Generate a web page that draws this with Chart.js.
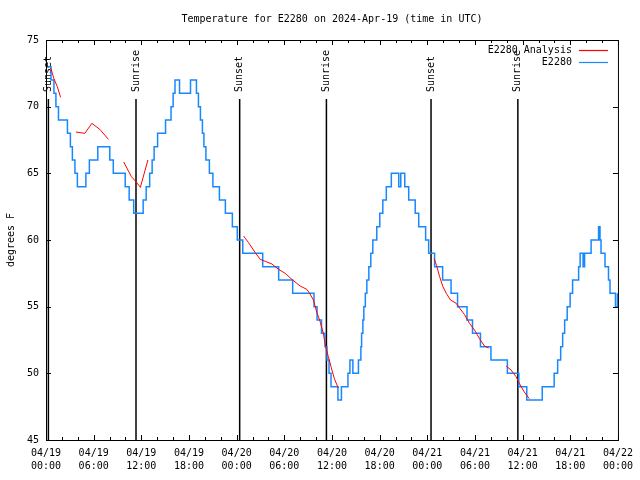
<!DOCTYPE html>
<html lang="en">
<head>
<meta charset="UTF-8" />
<title>Temperature for E2280</title>
<script src="https://cdn.jsdelivr.net/npm/chart.js"></script>
<style>
  html, body { margin: 0; padding: 0; background: #fff; }
</style>
</head>
<body>
<canvas id="tempChart" width="640" height="480"></canvas>
<script>
  const titleText = 'Temperature for E2280 on 2024-Apr-19 (time in UTC)';
  const yTitle = 'degrees F';

  // hours since 04/19 00:00 UTC
  const xTickHours = [0, 6, 12, 18, 24, 30, 36, 42, 48, 54, 60, 66, 72];
  const xTickLabels = [
    ['04/19', '00:00'], ['04/19', '06:00'], ['04/19', '12:00'], ['04/19', '18:00'],
    ['04/20', '00:00'], ['04/20', '06:00'], ['04/20', '12:00'], ['04/20', '18:00'],
    ['04/21', '00:00'], ['04/21', '06:00'], ['04/21', '12:00'], ['04/21', '18:00'],
    ['04/22', '00:00']
  ];
  const yTickValues = [45, 50, 55, 60, 65, 70, 75];

  const eventHours = [0.3, 11.33, 24.38, 35.3, 48.47, 59.4];
  const eventLabels = ['Sunset', 'Sunrise', 'Sunset', 'Sunrise', 'Sunset', 'Sunrise'];

  // E2280 observations (value changes at each hour)
  const obsHours = [
    0.25, 0.63, 1.00, 1.25, 1.57, 2.70, 3.07, 3.32, 3.64, 3.95,
    5.02, 5.46, 6.52, 8.03, 8.47, 9.97, 10.47, 11.04, 12.23, 12.61,
    13.05, 13.36, 13.61, 14.05, 15.05, 15.74, 16.00, 16.24, 16.81, 18.19,
    18.94, 19.19, 19.44, 19.69, 19.88, 20.13, 20.57, 21.01, 21.83, 22.58,
    23.46, 24.08, 24.77, 27.28, 29.29, 31.05, 33.74, 34.12, 34.68, 35.12,
    35.37, 35.63, 35.88, 36.75, 37.19, 38.01, 38.26, 38.63, 39.33, 39.64,
    39.73, 39.89, 40.01, 40.20, 40.39, 40.64, 40.89, 41.14, 41.64, 42.02,
    42.40, 42.84, 43.47, 44.41, 44.66, 45.16, 45.66, 46.48, 46.92, 47.79,
    48.17, 48.92, 49.93, 50.99, 51.81, 53.00, 53.69, 54.69, 56.01, 58.08,
    59.52, 60.52, 62.47, 63.97, 64.41, 64.79, 65.04, 65.29, 65.61, 65.98,
    66.29, 67.05, 67.24, 67.61, 67.80, 68.62, 69.56, 69.74, 69.87, 70.37,
    70.81, 71.00, 71.69, 71.94
  ];
  const obsTemps = [
    73, 72, 71, 70, 69, 68, 67, 66, 65, 64,
    65, 66, 67, 66, 65, 64, 63, 62, 63, 64,
    65, 66, 67, 68, 69, 70, 71, 72, 71, 72,
    71, 70, 69, 68, 67, 66, 65, 64, 63, 62,
    61, 60, 59, 58, 57, 56, 55, 54, 53, 52,
    51, 50, 49, 48, 49, 50, 51, 50, 51, 52,
    53, 54, 55, 56, 57, 58, 59, 60, 61, 62,
    63, 64, 65, 64, 65, 64, 63, 62, 61, 60,
    59, 58, 57, 56, 55, 54, 53, 52, 51, 50,
    49, 48, 49, 50, 51, 52, 53, 54, 55, 56,
    57, 58, 59, 58, 59, 60, 61, 60, 59, 58,
    57, 56, 55, 56
  ];

  // E2280 Analysis (null = gap)
  const anaHours = [
    0.59, 1.00, 1.42, 1.84, 2.80,
    3.76, 4.89, 5.77, 6.77, 7.86, 8.80,
    9.78, 10.75, 11.29, 11.88, 12.83, 18.00,
    24.87, 25.50, 26.34, 26.97, 27.60, 28.44, 29.27, 30.11, 30.95, 31.99,
    32.83, 33.24, 33.66, 34.08, 34.50, 34.91, 35.21, 35.54, 35.88, 36.30, 36.79, 42.00,
    48.86, 49.16, 49.55, 49.97, 50.39, 50.93, 51.64, 52.06, 52.69, 53.31,
    53.94, 54.57, 55.20, 55.74, 56.80,
    57.92, 58.54, 59.17, 59.58, 60.21, 60.84
  ];
  const anaTemps = [
    72.9, 72.1, 71.5, 70.7, null,
    68.1, 68.0, 68.75, 68.3, 67.55, null,
    65.85, 64.75, 64.4, 63.95, 66.0, null,
    60.3, 59.8, 59.05, 58.55, 58.4, 58.2, 57.8, 57.5, 57.05, 56.55,
    56.3, 55.95, 55.5, 54.6, 53.9, 53.0, 52.0, 51.25, 50.5, 49.6, 48.9, null,
    58.6, 58.1, 57.25, 56.5, 56.0, 55.5, 55.25, 54.9, 54.4, 53.75,
    53.25, 52.6, 52.05, 51.9, null,
    50.55, 50.25, 49.75, 49.25, 48.6, 48.1
  ];

  const FONT = '10px "DejaVu Sans Mono", "Liberation Mono", monospace';
  const RED = '#ff0000';
  const BLUE = '#1888ff';

  const gnuplotLook = {
    id: 'gnuplotLook',
    beforeDatasetsDraw(chart) {
      const { ctx, chartArea: a, scales: { x } } = chart;
      ctx.save();
      ctx.strokeStyle = '#000';
      ctx.lineWidth = 1.5;
      ctx.fillStyle = '#000';
      ctx.font = FONT;
      eventHours.forEach((h, i) => {
        const px = x.getPixelForValue(h);
        ctx.beginPath();
        ctx.moveTo(px, a.top + 59);
        ctx.lineTo(px, a.bottom);
        ctx.stroke();
        ctx.save();
        ctx.translate(px, a.top + 52);
        ctx.rotate(-Math.PI / 2);
        ctx.textAlign = 'left';
        ctx.textBaseline = 'middle';
        ctx.fillText(eventLabels[i], 0, 0);
        ctx.restore();
      });
      ctx.restore();
    },
    afterDraw(chart) {
      const { ctx, chartArea: a, scales: { x, y } } = chart;
      ctx.save();
      ctx.strokeStyle = '#000';
      ctx.lineWidth = 1;
      ctx.strokeRect(a.left + 0.5, a.top + 0.5, a.right - a.left, a.bottom - a.top);

      // inward ticks, gnuplot style
      ctx.beginPath();
      for (let h = 0; h <= 72; h += 2) {
        const px = Math.round(x.getPixelForValue(h)) + 0.5;
        const len = h % 6 === 0 ? 5 : 3;
        ctx.moveTo(px, a.bottom); ctx.lineTo(px, a.bottom - len);
        ctx.moveTo(px, a.top); ctx.lineTo(px, a.top + len);
      }
      yTickValues.forEach(v => {
        const py = Math.round(y.getPixelForValue(v)) + 0.5;
        ctx.moveTo(a.left, py); ctx.lineTo(a.left + 5, py);
        ctx.moveTo(a.right, py); ctx.lineTo(a.right - 5, py);
      });
      ctx.stroke();

      ctx.fillStyle = '#000';
      ctx.font = FONT;
      ctx.textBaseline = 'middle';

      ctx.textAlign = 'center';
      ctx.fillText(titleText, (a.left + a.right) / 2, 19);

      ctx.save();
      ctx.translate(11, (a.top + a.bottom) / 2);
      ctx.rotate(-Math.PI / 2);
      ctx.fillText(yTitle, 0, 0);
      ctx.restore();

      // key
      const ds = chart.data.datasets;
      ds.forEach((d, i) => {
        const ky = a.top + 10 + i * 12;
        ctx.textAlign = 'right';
        ctx.fillText(d.label, a.right - 46, ky);
        ctx.strokeStyle = d.borderColor;
        ctx.lineWidth = 1.2;
        ctx.beginPath();
        ctx.moveTo(a.right - 39, ky + 0.5);
        ctx.lineTo(a.right - 10, ky + 0.5);
        ctx.stroke();
      });
      ctx.restore();
    }
  };

  new Chart(document.getElementById('tempChart'), {
    type: 'line',
    data: {
      datasets: [
        {
          label: 'E2280 Analysis',
          data: anaHours.map((h, i) => ({ x: h, y: anaTemps[i] })),
          borderColor: RED,
          borderWidth: 1,
          pointRadius: 0,
          spanGaps: false,
          tension: 0
        },
        {
          label: 'E2280',
          data: obsHours.map((h, i) => ({ x: h, y: obsTemps[i] })),
          borderColor: BLUE,
          borderWidth: 1.5,
          pointRadius: 0,
          stepped: 'before',
          tension: 0
        }
      ]
    },
    options: {
      responsive: false,
      animation: false,
      layout: { padding: { top: 40, right: 20, left: 0, bottom: 0 } },
      plugins: {
        legend: { display: false },
        title: { display: false },
        tooltip: { enabled: false }
      },
      scales: {
        x: {
          type: 'linear',
          min: 0,
          max: 72,
          afterBuildTicks: s => { s.ticks = xTickHours.map(v => ({ value: v })); },
          afterFit: s => { s.height = 40; },
          grid: { display: false, drawTicks: false },
          border: { display: false },
          ticks: {
            autoSkip: false,
            maxRotation: 0,
            padding: 7,
            color: '#000',
            font: { family: '"DejaVu Sans Mono"', size: 10, lineHeight: 1.3 },
            callback: (v) => xTickLabels[xTickHours.indexOf(v)]
          }
        },
        y: {
          min: 45,
          max: 75,
          afterBuildTicks: s => { s.ticks = yTickValues.map(v => ({ value: v })); },
          afterFit: s => { s.width = 46; },
          grid: { display: false, drawTicks: false },
          border: { display: false },
          ticks: {
            padding: 7,
            color: '#000',
            font: { family: '"DejaVu Sans Mono"', size: 10 }
          }
        }
      }
    },
    plugins: [gnuplotLook]
  });
</script>
</body>
</html>
